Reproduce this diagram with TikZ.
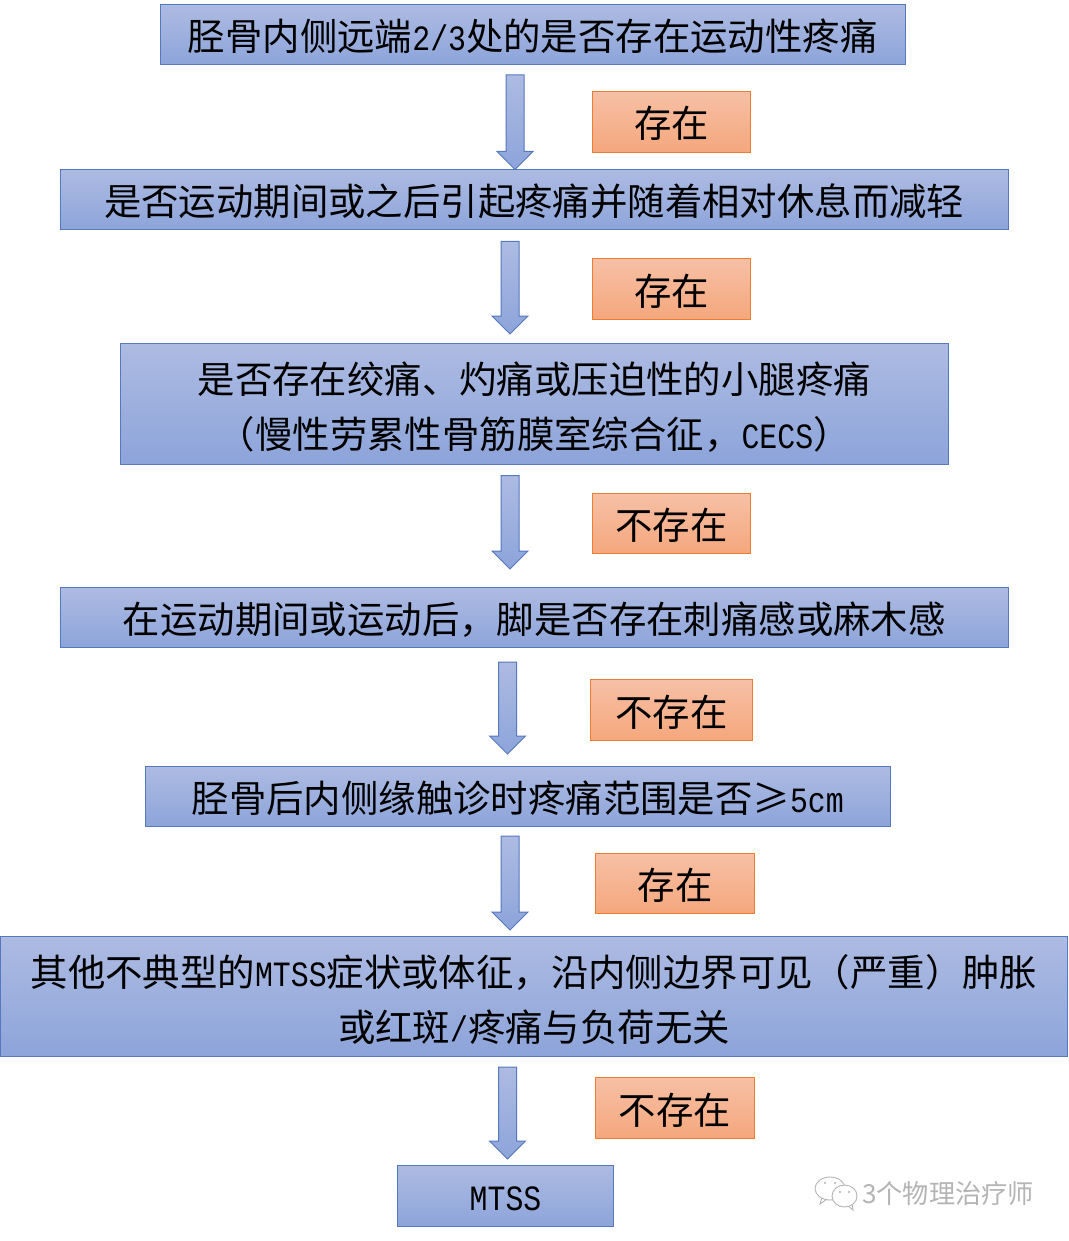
\documentclass[tikz,border=0pt]{standalone}
\usepackage{fontspec}
\usetikzlibrary{calc}
\setmainfont{Noto Sans CJK SC}
\newfontfamily\lat{Liberation Mono}[Scale=0.95,FakeStretch=0.84]
\definecolor{bluetop}{HTML}{ADBBE2}
\definecolor{bluebot}{HTML}{8DA4DA}
\definecolor{blueline}{HTML}{5578BE}
\definecolor{orangetop}{HTML}{F6C0A6}
\definecolor{orangebot}{HTML}{F5A77C}
\definecolor{orangeline}{HTML}{ED7D31}
\definecolor{marktext}{HTML}{B4B4B4}
\tikzset{
  x=1pt,y=-1pt,
  anybox/.style={draw,line width=1pt,inner sep=0pt,align=center,text=black,
    font=\fontsize{37.4pt}{56pt}\selectfont,
    execute at begin node={\rule[-5pt]{0pt}{42pt}}},
  bluebox/.style={anybox,draw=blueline,top color=bluetop,bottom color=bluebot},
  orangebox/.style={anybox,draw=orangeline,top color=orangetop,bottom color=orangebot},
  blockshape/.style={draw=blueline,line width=1pt,top color=bluetop,bottom color=bluebot,line join=miter},
  markicon/.style={draw=marktext,line width=0.9pt,fill=white},
}
\newcommand{\blockarrow}[5]{%
  \path[blockshape] let \p1=(#1.south), \p2=(#2.north) in
    (#3pt-9pt,\y1-#4pt) -- (#3pt+9pt,\y1-#4pt) -- (#3pt+9pt,\y2+#5pt+18pt)
    -- (#3pt+18pt,\y2+#5pt+18pt) -- (#3pt,\y2+#5pt) -- (#3pt-18pt,\y2+#5pt+18pt)
    -- (#3pt-9pt,\y2+#5pt+18pt) -- cycle;}
\newcommand{\boxnode}[7]{% style,name,x0,y0,x1,y1,text
  \node[#1,minimum width={#5pt-#3pt},minimum height={#6pt-#4pt}] (#2) at ({(#3+#5)/2},{(#4+#6)/2}) {#7};}
\begin{document}
\begin{tikzpicture}
\useasboundingbox (0,0) rectangle (1068,1241);
\boxnode{bluebox}{b1}{160.5}{4.5}{905}{64.5}{胫骨内侧远端{\lat 2/3}处的是否存在运动性疼痛}
\boxnode{bluebox}{b2}{60.5}{170}{1008}{230}{是否运动期间或之后引起疼痛并随着相对休息而减轻}
\boxnode{bluebox}{b3}{120.5}{343.5}{948}{464}{\rule{0pt}{40pt}是否存在绞痛、灼痛或压迫性的小腿疼痛\\[-1pt]（慢性劳累性骨筋膜室综合征，{\lat CECS}）}
\boxnode{bluebox}{b4}{60.5}{587.5}{1008}{647.5}{在运动期间或运动后，脚是否存在刺痛感或麻木感}
\boxnode{bluebox}{b5}{145.5}{766.5}{890}{826.5}{胫骨后内侧缘触诊时疼痛范围是否≥{\lat 5cm}}
\boxnode{bluebox}{b6}{0.5}{936.5}{1067.5}{1056.5}{\rule{0pt}{40pt}其他不典型的{\lat MTSS}症状或体征，沿内侧边界可见（严重）肿胀\\[-1pt]或红斑{\lat /}疼痛与负荷无关}
\boxnode{bluebox}{b7}{397.5}{1165.5}{613.5}{1226.5}{\raisebox{1.5pt}{\lat MTSS}}
\boxnode{orangebox}{l1}{592.5}{91.5}{750.5}{152.5}{存在}
\boxnode{orangebox}{l2}{592.5}{258.5}{750.5}{319.5}{存在}
\boxnode{orangebox}{l3}{592.5}{493.5}{750.5}{553.5}{不存在}
\boxnode{orangebox}{l4}{590.5}{679.5}{752.5}{740.5}{不存在}
\boxnode{orangebox}{l5}{595.5}{853.5}{754.5}{913.5}{存在}
\boxnode{orangebox}{l6}{595.5}{1077.5}{754.5}{1138.5}{不存在}
\blockarrow{b1}{b2}{515}{10}{0}
\blockarrow{b2}{b3}{510}{11}{9}
\blockarrow{b3}{b4}{510}{11}{18}
\blockarrow{b4}{b5}{507.5}{14}{12}
\blockarrow{b5}{b6}{510}{9}{6}
\blockarrow{b6}{b7}{507.5}{10}{6}
% watermark
\draw[markicon] (820,1204) -- (822,1197) -- (827,1199) -- cycle;
\draw[markicon] (830,1188.5) ellipse [x radius=15,y radius=11.5];
\draw[markicon] (853,1210) -- (847,1205) -- (852,1203) -- cycle;
\draw[markicon] (844.5,1196) ellipse [x radius=12.5,y radius=11];
\fill[marktext] (825,1183) circle (1.2) (835,1183) circle (1.2) (840,1192) circle (1.2) (849,1192) circle (1.2);
\node[inner sep=0pt,text=marktext,font=\fontsize{26.2pt}{30pt}\selectfont] (wm) at (948,1193) {3个物理治疗师};
\end{tikzpicture}
\end{document}
